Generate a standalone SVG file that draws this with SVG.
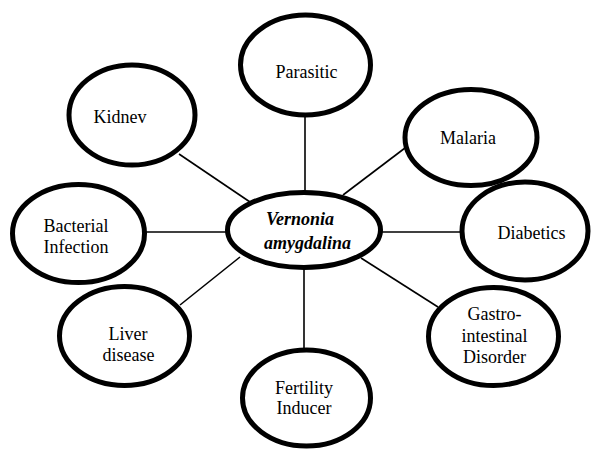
<svg xmlns="http://www.w3.org/2000/svg" width="593" height="450" viewBox="0 0 593 450">
<style>
.n{fill:#fff;stroke:#000;stroke-width:5}
.t{font-family:"Liberation Serif","Times New Roman",serif;font-size:18px;fill:#000;text-anchor:middle}
.c{font-weight:bold;font-style:italic}
.e{stroke:#000;stroke-width:1.6;fill:none}
</style>
<rect width="593" height="450" fill="#fff"/>
<g id="connectors">
<line class="e" x1="179" y1="154" x2="250" y2="202"/>
<line class="e" x1="305" y1="117" x2="305" y2="192"/>
<line class="e" x1="405" y1="148" x2="343" y2="195"/>
<line class="e" x1="378" y1="232" x2="460" y2="232"/>
<line class="e" x1="361" y1="258" x2="438" y2="307"/>
<line class="e" x1="304" y1="268" x2="304" y2="349"/>
<line class="e" x1="240" y1="257" x2="180" y2="305"/>
<line class="e" x1="145" y1="232" x2="228" y2="232"/>
</g>
<g id="center">
<ellipse class="n" cx="304" cy="230" rx="76.5" ry="37.5"/>
<text class="t c" x="300" y="225">Vernonia</text>
<text class="t c" x="307.5" y="249">amygdalina</text>
</g>
<g id="kidney">
<ellipse class="n" cx="132" cy="115" rx="63" ry="50"/>
<text class="t" x="120" y="123">Kidnev</text>
</g>
<g id="parasitic">
<ellipse class="n" cx="305.5" cy="65" rx="65" ry="50"/>
<text class="t" x="306.5" y="78">Parasitic</text>
</g>
<g id="malaria">
<ellipse class="n" cx="471" cy="137.5" rx="66" ry="48"/>
<text class="t" x="468" y="144">Malaria</text>
</g>
<g id="diabetics">
<ellipse class="n" cx="525" cy="231" rx="63" ry="49"/>
<text class="t" x="531.5" y="239">Diabetics</text>
</g>
<g id="gastro">
<ellipse class="n" cx="493.5" cy="336.5" rx="65" ry="49"/>
<text class="t" x="494.5" y="320">Gastro-</text>
<text class="t" x="494.5" y="342">intestinal</text>
<text class="t" x="494.5" y="363">Disorder</text>
</g>
<g id="fertility">
<ellipse class="n" cx="306.5" cy="398" rx="64" ry="48"/>
<text class="t" x="304" y="394">Fertility</text>
<text class="t" x="304" y="414">Inducer</text>
</g>
<g id="liver">
<ellipse class="n" cx="124.5" cy="336" rx="65" ry="49.5"/>
<text class="t" x="128" y="340">Liver</text>
<text class="t" x="128.5" y="361">disease</text>
</g>
<g id="bacterial">
<ellipse class="n" cx="78.5" cy="233.5" rx="66" ry="49"/>
<text class="t" x="76" y="232">Bacterial</text>
<text class="t" x="76" y="253">Infection</text>
</g>
</svg>
